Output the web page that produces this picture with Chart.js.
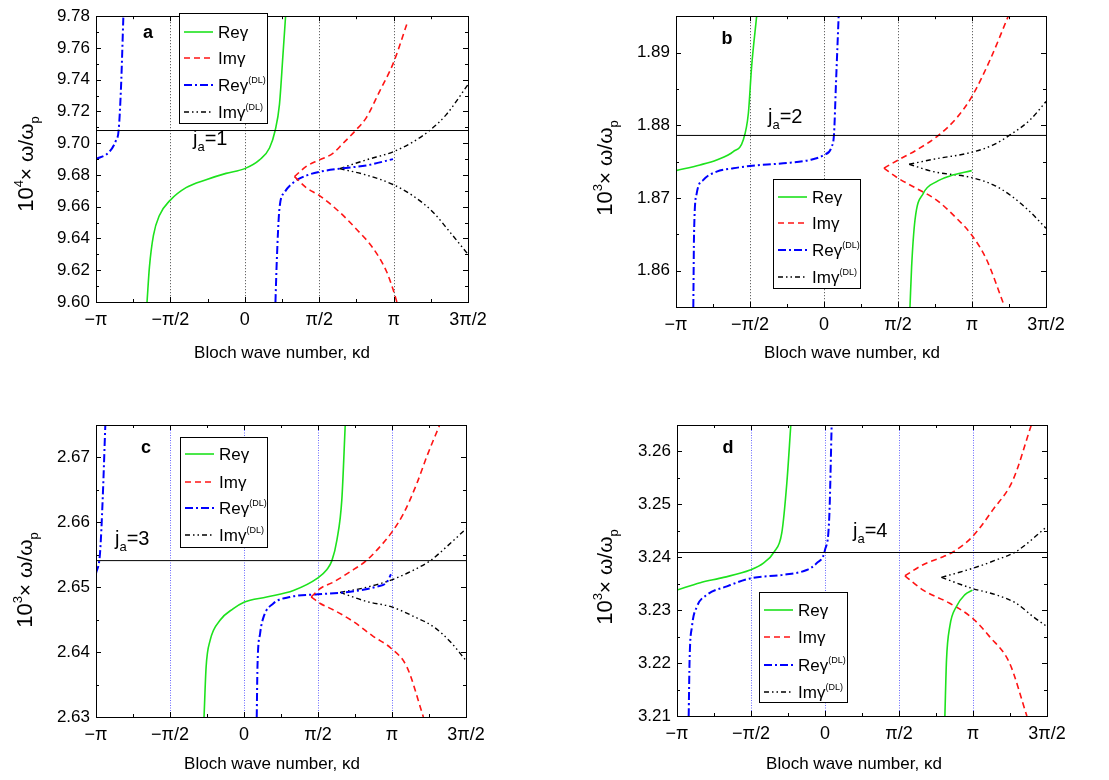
<!DOCTYPE html>
<html>
<head>
<meta charset="utf-8">
<script src="https://cdn.jsdelivr.net/npm/chart.js@4.4.1/dist/chart.umd.min.js"></script>
<style>
  body { margin: 0; background: #fff; width: 1109px; height: 780px; position: relative; overflow: hidden; }
  canvas { position: absolute; }
</style>
</head>
<body>
<canvas id="cA" width="554" height="390" style="left:0;top:0"></canvas>
<canvas id="cB" width="554" height="390" style="left:554px;top:0"></canvas>
<canvas id="cC" width="554" height="390" style="left:0;top:390px"></canvas>
<canvas id="cD" width="554" height="390" style="left:554px;top:390px"></canvas>
<script>
// x is kd in units of pi
const xTickVals = [-1, -0.5, 0, 0.5, 1, 1.5];
const xTickLabels = ['\u2212\u03c0', '\u2212\u03c0/2', '0', '\u03c0/2', '\u03c0', '3\u03c0/2'];
const vDotVals = [-0.5, 0, 0.5, 1];

// panel a  (j_a = 1), 10^4 w/wp
const yTicksA = [9.60, 9.62, 9.64, 9.66, 9.68, 9.70, 9.72, 9.74, 9.76, 9.78];
const jaA = 9.708;
const reA = [[-0.657,9.600],[-0.641,9.622],[-0.614,9.642],[-0.574,9.6545],[-0.502,9.664],[-0.395,9.672],[-0.260,9.677],[-0.126,9.681],[0.0,9.684],[0.099,9.6895],[0.166,9.697],[0.204,9.708],[0.233,9.7245],[0.256,9.755],[0.274,9.78]];
const reDlA1 = [[-1,9.690],[-0.910,9.6946],[-0.865,9.702],[-0.848,9.708],[-0.832,9.735],[-0.816,9.78]];
const reDlA2 = [[0.206,9.600],[0.215,9.626],[0.233,9.659],[0.267,9.669],[0.323,9.675],[0.413,9.6796],[0.502,9.682],[0.637,9.684],[0.816,9.686],[0.996,9.690]];
const imA1 = [[0.334,9.679],[0.413,9.6854],[0.502,9.6895],[0.592,9.6936],[0.659,9.6998],[0.744,9.708],[0.816,9.716],[0.906,9.7327],[0.996,9.750],[1.096,9.777]];
const imA2 = [[0.334,9.679],[0.413,9.672],[0.502,9.667],[0.637,9.6566],[0.749,9.646],[0.861,9.634],[0.951,9.6195],[0.996,9.608],[1.022,9.600]];
const imDlA1 = [[0.637,9.684],[0.816,9.6895],[0.996,9.6946],[1.130,9.7008],[1.242,9.708],[1.354,9.718],[1.5,9.737]];
const imDlA2 = [[0.637,9.684],[0.816,9.680],[0.996,9.674],[1.130,9.6669],[1.265,9.6566],[1.377,9.6442],[1.5,9.630]];

// panel b  (j_a = 2), 10^3 w/wp
const yTicksB = [1.86, 1.87, 1.88, 1.89];
const jaB = 1.8786;
const reB1 = [[-1,1.87376],[-0.838,1.87454],[-0.725,1.87523],[-0.613,1.87638],[-0.545,1.8780],[-0.511,1.88165],[-0.489,1.88807],[-0.455,1.895]];
const reB2 = [[0.581,1.855],[0.592,1.86055],[0.615,1.8670],[0.671,1.87064],[0.761,1.87225],[0.851,1.87303],[0.998,1.87376]];
const reDlB = [[-0.883,1.855],[-0.878,1.86514],[-0.860,1.87064],[-0.815,1.87248],[-0.725,1.87362],[-0.613,1.87408],[-0.5,1.8744],[-0.275,1.87477],[-0.095,1.87523],[0,1.87592],[0.052,1.87706],[0.068,1.8789],[0.081,1.88578],[0.099,1.895]];
const imB1 = [[0.405,1.8741],[0.502,1.87523],[0.626,1.8766],[0.773,1.8786],[0.896,1.8810],[0.998,1.8839],[1.122,1.889],[1.245,1.895]];
const imB2 = [[0.405,1.8741],[0.502,1.8727],[0.626,1.8713],[0.761,1.8697],[0.896,1.8672],[0.998,1.8649],[1.099,1.8615],[1.212,1.8555]];
const imDlB1 = [[0.576,1.87463],[0.739,1.87532],[0.998,1.87628],[1.144,1.8773],[1.257,1.87867],[1.392,1.88073],[1.5,1.88326]];
const imDlB2 = [[0.576,1.87463],[0.739,1.87362],[0.998,1.8728],[1.144,1.8718],[1.257,1.87041],[1.392,1.8681],[1.5,1.86583]];

// panel c  (j_a = 3)
const yTicksC = [2.63, 2.64, 2.65, 2.66, 2.67];
const jaC = 2.6541;
const reC = [[-0.270,2.63],[-0.256,2.6377],[-0.229,2.6418],[-0.162,2.6449],[-0.072,2.6467],[0,2.6477],[0.153,2.6485],[0.334,2.6495],[0.497,2.6514],[0.559,2.6527],[0.594,2.6541],[0.628,2.6573],[0.661,2.6635],[0.684,2.675]];
const reDlC1 = [[-1,2.6521],[-0.973,2.6552],[-0.955,2.6635],[-0.937,2.675]];
const reDlC2 = [[0.086,2.63],[0.091,2.6377],[0.109,2.6429],[0.132,2.6454],[0.198,2.6475],[0.311,2.6485],[0.497,2.6489],[0.718,2.6493],[0.898,2.6501],[0.966,2.6508],[0.993,2.652]];
const imC1 = [[0.454,2.6485],[0.515,2.6498],[0.605,2.6508],[0.718,2.6524],[0.826,2.6541],[0.921,2.6563],[0.993,2.6583],[1.079,2.6614],[1.168,2.6660],[1.236,2.6702],[1.322,2.675]];
const imC2 = [[0.454,2.6485],[0.515,2.6475],[0.605,2.6465],[0.739,2.6447],[0.875,2.6424],[0.993,2.6406],[1.101,2.6377],[1.212,2.63]];
const imDlC1 = [[0.650,2.6492],[0.830,2.6500],[0.993,2.6511],[1.124,2.6524],[1.259,2.6541],[1.372,2.6563],[1.5,2.659]];
const imDlC2 = [[0.650,2.6492],[0.830,2.6478],[0.993,2.6470],[1.146,2.6455],[1.281,2.6439],[1.394,2.6416],[1.5,2.6387]];

// panel d  (j_a = 4)
const yTicksD = [3.21, 3.22, 3.23, 3.24, 3.25, 3.26];
const jaD = 3.2409;
const reD1 = [[-1,3.2338],[-0.843,3.2352],[-0.685,3.2362],[-0.506,3.2376],[-0.416,3.2389],[-0.344,3.241],[-0.292,3.2446],[-0.258,3.254],[-0.231,3.265]];
const reD2 = [[0.810,3.21],[0.821,3.2206],[0.843,3.2269],[0.888,3.2307],[0.944,3.2329],[0.996,3.2338]];
const reDlD = [[-0.921,3.21],[-0.915,3.2206],[-0.899,3.2269],[-0.865,3.2307],[-0.798,3.2329],[-0.663,3.2345],[-0.506,3.236],[-0.281,3.2367],[-0.124,3.2376],[-0.056,3.2389],[0,3.2414],[0.029,3.2477],[0.045,3.265]];
const imD1 = [[0.540,3.2365],[0.663,3.2386],[0.798,3.2401],[0.865,3.241],[0.996,3.2439],[1.135,3.249],[1.270,3.2546],[1.394,3.265]];
const imD2 = [[0.540,3.2365],[0.663,3.2338],[0.843,3.2313],[0.996,3.2285],[1.112,3.225],[1.247,3.22],[1.364,3.21]];
const imDlD1 = [[0.787,3.2362],[0.996,3.2379],[1.157,3.2395],[1.292,3.2411],[1.5,3.2458]];
const imDlD2 = [[0.787,3.2362],[0.996,3.2341],[1.157,3.2329],[1.292,3.2313],[1.405,3.2288],[1.5,3.2269]];

const FONT = '"Liberation Sans", Arial, sans-serif';
Chart.defaults.font.family = FONT;
Chart.defaults.color = '#000';

// line styles
const STY = {
  re:   { color: '#1de21d', width: 1.6, dash: [] },
  im:   { color: '#ff1414', width: 1.6, dash: [6, 4] },
  reDl: { color: '#0000ff', width: 2,   dash: [8, 3, 2, 3] },
  imDl: { color: '#000000', width: 1.4, dash: [5, 3, 1.5, 3, 1.5, 3] }
};
const LEGEND = [
  ['re',   [['Re\u03b3', 17, 0]]],
  ['im',   [['Im\u03b3', 17, 0]]],
  ['reDl', [['Re\u03b3', 17, 0], ['(DL)', 9, -8]]],
  ['imDl', [['Im\u03b3', 17, 0], ['(DL)', 9, -8]]]
];

function rich(ctx, parts, x, y, align) {
  let w = 0;
  parts.forEach(p => { ctx.font = (p[3] ? 'bold ' : '') + p[1] + 'px ' + FONT; w += ctx.measureText(p[0]).width; });
  let cx = align === 'center' ? x - w / 2 : x;
  parts.forEach(p => {
    ctx.font = (p[3] ? 'bold ' : '') + p[1] + 'px ' + FONT;
    ctx.fillText(p[0], cx, y + (p[2] || 0));
    cx += ctx.measureText(p[0]).width;
  });
}

const decor = {
  id: 'decor',
  beforeDatasetsDraw(chart, args, o) {
    const { ctx, chartArea: a, scales: { x } } = chart;
    ctx.save();
    ctx.strokeStyle = o.dotColor;
    ctx.lineWidth = 1;
    ctx.setLineDash(o.dotDash);
    vDotVals.forEach(v => {
      const px = Math.round(x.getPixelForValue(v)) + 0.5;
      ctx.beginPath(); ctx.moveTo(px, a.top); ctx.lineTo(px, a.bottom); ctx.stroke();
    });
    ctx.restore();
  },
  afterDraw(chart, args, o) {
    const { ctx, chartArea: a, scales: { x, y } } = chart;
    ctx.save();
    // frame
    ctx.strokeStyle = '#000';
    ctx.lineWidth = 1;
    ctx.strokeRect(Math.round(a.left) + 0.5, Math.round(a.top) + 0.5, Math.round(a.right - a.left), Math.round(a.bottom - a.top));
    // inward ticks
    ctx.beginPath();
    for (let v = -1; v <= 1.5001; v += 0.25) {
      const px = Math.round(x.getPixelForValue(v)) + 0.5;
      const len = Math.abs(v * 2 - Math.round(v * 2)) < 1e-6 ? 5 : 3;
      ctx.moveTo(px, a.bottom); ctx.lineTo(px, a.bottom - len);
      ctx.moveTo(px, a.top); ctx.lineTo(px, a.top + len);
    }
    const yt = o.yTicks;
    const step = yt[1] - yt[0];
    const yVals = [];
    for (let v = yt[0] - step; v <= y.max + 1e-9; v += step / 2) if (v >= y.min - 1e-9) yVals.push(v);
    yVals.forEach(v => {
      const py = Math.round(y.getPixelForValue(v)) + 0.5;
      const major = yt.some(t => Math.abs(t - v) < step / 10);
      const len = major ? 5 : 3;
      ctx.moveTo(a.left, py); ctx.lineTo(a.left + len, py);
      ctx.moveTo(a.right, py); ctx.lineTo(a.right - len, py);
    });
    ctx.stroke();

    ctx.fillStyle = '#000';
    ctx.textBaseline = 'alphabetic';
    // panel letter
    ctx.font = 'bold 18px ' + FONT;
    ctx.textAlign = 'center';
    ctx.fillText(o.letter, o.letterPos[0], o.letterPos[1]);
    ctx.textAlign = 'left';
    // j_a label
    rich(ctx, [['j', 20, 0], ['a', 13, 6], ['=' + o.ja, 20, 0]], o.jaPos[0], o.jaPos[1], 'left');
    // x title
    rich(ctx, [['Bloch wave number, \u03bad', 17, 0]], o.xTitle[0], o.xTitle[1], 'center');
    // y title (rotated)
    ctx.save();
    ctx.translate(o.yTitle[0], o.yTitle[1]);
    ctx.rotate(-Math.PI / 2);
    rich(ctx, [['10', 22, 0], [o.exp, 13, -10], ['\u00d7 \u03c9/\u03c9', 21, 0], ['p', 13, 6]], 0, 0, 'center');
    ctx.restore();
    // legend box
    const L = o.legend;
    ctx.fillStyle = '#fff';
    ctx.fillRect(L[0], L[1], L[2], L[3]);
    ctx.strokeStyle = '#000';
    ctx.lineWidth = 1;
    ctx.strokeRect(L[0] + 0.5, L[1] + 0.5, L[2], L[3]);
    LEGEND.forEach((e, i) => {
      const s = STY[e[0]];
      const ly = L[1] + o.legendRows[i];
      ctx.save();
      ctx.strokeStyle = s.color;
      ctx.lineWidth = s.width;
      ctx.setLineDash(s.dash);
      ctx.beginPath(); ctx.moveTo(L[0] + 5, ly); ctx.lineTo(L[0] + 34, ly); ctx.stroke();
      ctx.restore();
      ctx.fillStyle = '#000';
      rich(ctx, e[1], L[0] + 39, ly + 6, 'left');
    });
    ctx.restore();
  }
};

function ds(pts, key) {
  const s = STY[key];
  return {
    data: pts.map(p => ({ x: p[0], y: p[1] })),
    showLine: true, pointRadius: 0, fill: false,
    borderColor: s.color, borderWidth: s.width, borderDash: s.dash,
    cubicInterpolationMode: 'monotone'
  };
}

function panel(id, g, yMin, yMax, yTicks, ja, series, deco) {
  const W = 554, H = 390;
  const datasets = [{
    data: [{ x: -1, y: ja }, { x: 1.5, y: ja }],
    showLine: true, pointRadius: 0, borderColor: '#000', borderWidth: 1, fill: false
  }];
  series.forEach(s => datasets.push(ds(s[0], s[1])));
  deco.yTicks = yTicks;
  return new Chart(document.getElementById(id), {
    type: 'scatter',
    data: { datasets },
    plugins: [decor],
    options: {
      responsive: false, animation: false, events: [],
      layout: { padding: { top: g.top, right: W - g.right, left: 0, bottom: 0 } },
      plugins: { legend: { display: false }, tooltip: { enabled: false }, decor: deco },
      scales: {
        x: {
          type: 'linear', min: -1, max: 1.5,
          afterBuildTicks: s => { s.ticks = xTickVals.map(v => ({ value: v })); },
          afterFit: s => { s.height = H - g.bottom; },
          grid: { display: false, drawTicks: false }, border: { display: false },
          ticks: { font: { size: 18 }, color: '#000', padding: 7, maxRotation: 0, autoSkip: false,
                   callback: v => xTickLabels[xTickVals.indexOf(v)] }
        },
        y: {
          type: 'linear', min: yMin, max: yMax,
          afterBuildTicks: s => { s.ticks = yTicks.map(v => ({ value: v })); },
          afterFit: s => { s.width = g.left; },
          grid: { display: false, drawTicks: false }, border: { display: false },
          ticks: { font: { size: 17 }, color: '#000', padding: 6, autoSkip: false,
                   callback: v => v.toFixed(2) }
        }
      }
    }
  });
}

const grayDot = { dotColor: '#444', dotDash: [1, 2] };
const blueDot = { dotColor: '#6a6aff', dotDash: [1, 1.5] };

panel('cA', { left: 96, right: 468, top: 10, bottom: 302 }, 9.60, 9.78, yTicksA, jaA,
  [[reA, 're'], [imA1, 'im'], [imA2, 'im'], [reDlA1, 'reDl'], [reDlA2, 'reDl'], [imDlA1, 'imDl'], [imDlA2, 'imDl']],
  Object.assign({ letter: 'a', letterPos: [148, 38], ja: '1', jaPos: [193, 145], xTitle: [282, 358],
    yTitle: [33, 164], exp: '4', legend: [179, 13, 88, 110], legendRows: [19, 45, 72, 99] }, grayDot));

panel('cB', { left: 122, right: 492, top: 16, bottom: 307 }, 1.855, 1.895, yTicksB, jaB,
  [[reB1, 're'], [reB2, 're'], [imB1, 'im'], [imB2, 'im'], [reDlB, 'reDl'], [imDlB1, 'imDl'], [imDlB2, 'imDl']],
  Object.assign({ letter: 'b', letterPos: [173, 44], ja: '2', jaPos: [214, 123], xTitle: [298, 358],
    yTitle: [58, 168], exp: '3', legend: [219, 179, 87, 109], legendRows: [18, 44, 71, 98] }, grayDot));

panel('cC', { left: 96, right: 466, top: 35, bottom: 327 }, 2.63, 2.675, yTicksC, jaC,
  [[reC, 're'], [imC1, 'im'], [imC2, 'im'], [reDlC1, 'reDl'], [reDlC2, 'reDl'], [imDlC1, 'imDl'], [imDlC2, 'imDl']],
  Object.assign({ letter: 'c', letterPos: [146, 63], ja: '3', jaPos: [115, 155], xTitle: [272, 379],
    yTitle: [32, 190], exp: '3', legend: [180, 47, 87, 110], legendRows: [17, 45, 71, 98] }, blueDot));

panel('cD', { left: 123, right: 493, top: 35, bottom: 326 }, 3.21, 3.265, yTicksD, jaD,
  [[reD1, 're'], [reD2, 're'], [imD1, 'im'], [imD2, 'im'], [reDlD, 'reDl'], [imDlD1, 'imDl'], [imDlD2, 'imDl']],
  Object.assign({ letter: 'd', letterPos: [174, 63], ja: '4', jaPos: [299, 147], xTitle: [300, 379],
    yTitle: [58, 187], exp: '3', legend: [205, 202, 88, 110], legendRows: [18, 45, 73, 100] }, blueDot));
</script>
</body>
</html>
